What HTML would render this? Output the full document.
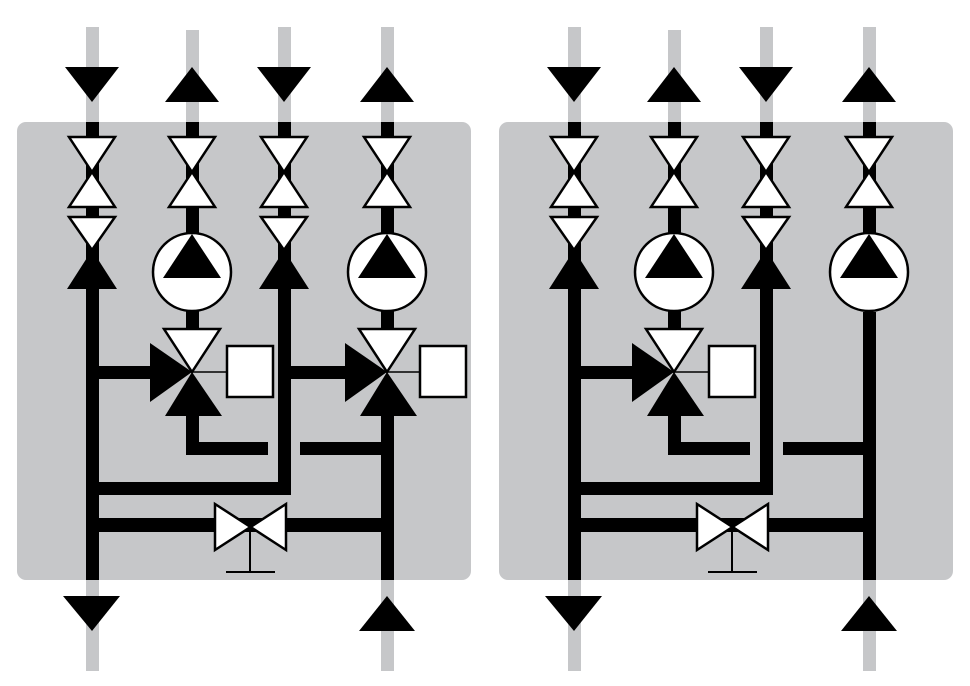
<!DOCTYPE html>
<html><head><style>html,body{margin:0;padding:0;background:#fff;}svg{display:block}</style></head>
<body>
<svg width="970" height="686" viewBox="0 0 970 686" xmlns="http://www.w3.org/2000/svg">
<defs>
<g id="common">
  <rect x="17" y="122" width="454" height="458" rx="9" fill="#c6c7c9"/>
  <g fill="#c6c7c9">
    <rect x="86" y="27" width="13" height="96"/>
    <rect x="186" y="30" width="13" height="93"/>
    <rect x="278" y="27" width="13" height="96"/>
    <rect x="381" y="27" width="13" height="96"/>
    <rect x="86" y="579" width="13" height="92"/>
    <rect x="381" y="579" width="13" height="92"/>
  </g>
  <g fill="#000">
    <polygon points="65,67 119,67 92,102"/>
    <polygon points="165,102 219,102 192,67"/>
    <polygon points="257,67 311,67 284,102"/>
    <polygon points="360,102 414,102 387,67"/>
    <polygon points="63,596 120,596 92,631"/>
    <polygon points="359,631 415,631 387,596"/>
  </g>
  <g fill="#000">
    <rect x="86" y="122" width="13" height="458"/>
    <rect x="186" y="122" width="13" height="120"/>
    <rect x="278" y="122" width="13" height="373"/>
    <rect x="381" y="122" width="13" height="120"/>
    <rect x="186" y="300" width="13" height="40"/>
    <rect x="86" y="482" width="205" height="13"/>
    <rect x="86" y="518" width="308" height="14"/>
    <rect x="86" y="366" width="70" height="13"/>
  </g>
  <g fill="#fff" stroke="#000" stroke-width="2.5" stroke-linejoin="miter">
    <polygon points="69,137 115,137 92,172 69,207 115,207 92,172"/>
    <polygon points="169,137 215,137 192,172 169,207 215,207 192,172"/>
    <polygon points="261,137 307,137 284,172 261,207 307,207 284,172"/>
    <polygon points="364,137 410,137 387,172 364,207 410,207 387,172"/>
    <polygon points="69,217 115,217 92,250"/>
    <polygon points="261,217 307,217 284,250"/>
  </g>
  <g fill="#000">
    <polygon points="67,289 117,289 92,250"/>
    <polygon points="259,289 309,289 284,250"/>
  </g>
  <g stroke="#000" stroke-width="2.5" fill="#fff">
    <circle cx="192" cy="272" r="39"/>
    <circle cx="387" cy="272" r="39"/>
  </g>
  <g fill="#000">
    <polygon points="192,234 163,278 221,278"/>
    <polygon points="387,234 358,278 416,278"/>
  </g>
  <rect x="186" y="416" width="13" height="39" fill="#000"/>
  <rect x="186" y="442" width="82" height="13" fill="#000"/>
  <polygon points="150,343 150,402 192,372" fill="#000"/>
  <polygon points="192,372 165,416 222,416" fill="#000"/>
  <polygon points="164,329 220,329 192,372" fill="#fff" stroke="#000" stroke-width="2.5"/>
  <line x1="192" y1="372" x2="227" y2="372" stroke="#000" stroke-width="1.5"/>
  <rect x="227" y="346" width="46" height="51" fill="#fff" stroke="#000" stroke-width="2.5"/>
  <polygon points="215,504 215,550 286,504 286,550" fill="#fff" stroke="#000" stroke-width="2.5"/>
  <line x1="250" y1="527" x2="250" y2="572" stroke="#000" stroke-width="2"/>
  <line x1="226" y1="572" x2="275" y2="572" stroke="#000" stroke-width="2"/>
</g>
</defs>

<use href="#common"/>
<g>
  <rect x="381" y="311" width="13" height="29" fill="#000"/>
  <rect x="278" y="366" width="70" height="13" fill="#000"/>
  <rect x="381" y="416" width="13" height="164" fill="#000"/>
  <rect x="300" y="442" width="90" height="13" fill="#000"/>
  <polygon points="345,343 345,402 387,372" fill="#000"/>
  <polygon points="387,372 360,416 417,416" fill="#000"/>
  <polygon points="359,329 415,329 387,372" fill="#fff" stroke="#000" stroke-width="2.5"/>
  <line x1="387" y1="372" x2="420" y2="372" stroke="#000" stroke-width="1.5"/>
  <rect x="420" y="346" width="46" height="51" fill="#fff" stroke="#000" stroke-width="2.5"/>
</g>

<g transform="translate(482,0)">
  <use href="#common"/>
  <rect x="381" y="312" width="13" height="268" fill="#000"/>
  <rect x="301" y="442" width="90" height="13" fill="#000"/>
</g>
</svg>
</body></html>
